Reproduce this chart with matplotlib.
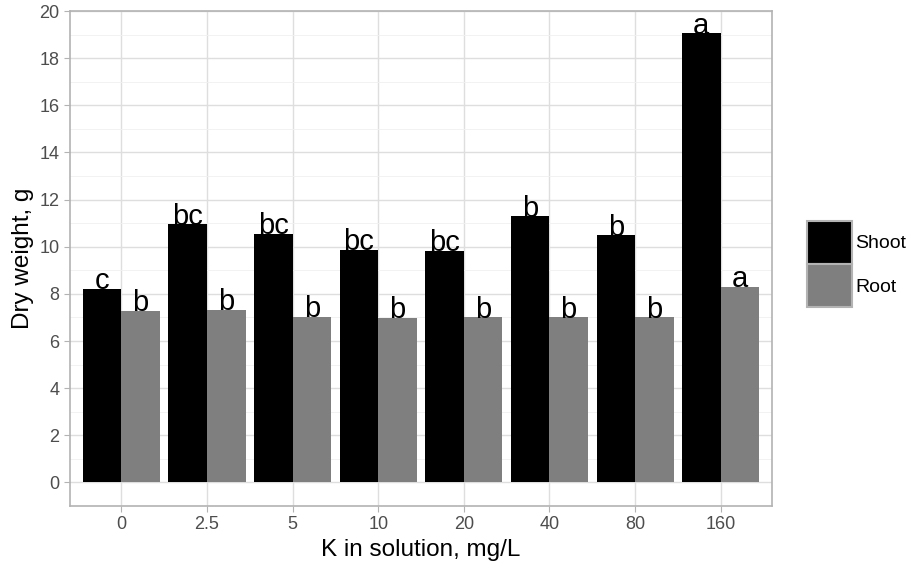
import matplotlib
matplotlib.use('Agg')
import matplotlib.pyplot as plt
import numpy as np
from matplotlib.patches import Patch

# data
conc = ['0', '2.5', '5', '10', '20', '40', '80', '160']
shoot = [8.22, 10.97, 10.55, 9.87, 9.83, 11.31, 10.5, 19.07]
root = [7.29, 7.33, 7.03, 6.99, 7.0, 7.0, 7.0, 8.3]
shoot_lab = ['c', 'bc', 'bc', 'bc', 'bc', 'b', 'b', 'a']
root_lab = ['b', 'b', 'b', 'b', 'b', 'b', 'b', 'a']

plt.rcParams['font.family'] = ['Liberation Sans', 'DejaVu Sans']

fig = plt.figure(figsize=(9.12, 5.69), dpi=100)
ax = fig.add_axes([70 / 912, 1 - 506 / 569, (772 - 70) / 912, (506 - 11) / 569])

x = np.arange(len(conc))
w = 0.45
ax.bar(x - w / 2, shoot, width=w, color='black', zorder=3)
ax.bar(x + w / 2, root, width=w, color='#7f7f7f', zorder=3)

f = 21  # letters above bars
for i in range(len(conc)):
    ax.text(x[i] - w / 2, shoot[i] - 0.03, shoot_lab[i], ha='center', va='baseline', fontsize=f, zorder=4)
    ax.text(x[i] + w / 2, root[i] - 0.03, root_lab[i], ha='center', va='baseline', fontsize=f, zorder=4)

ax.set_xlim(-0.6, 7.6)
ax.set_ylim(-1, 20)
ax.set_xticks(x)
ax.set_xticklabels(conc)
ax.set_yticks(np.arange(0, 21, 2))
ax.set_yticks(np.arange(1, 20, 2), minor=True)
ax.grid(True, which='major', color='#dedede', lw=1, zorder=0)
ax.grid(True, which='minor', axis='y', color='#f0f0f0', lw=0.6, zorder=0)
ax.tick_params(axis='both', which='major', colors='#b3b3b3', labelcolor='#4d4d4d', labelsize=13, length=4)
ax.tick_params(axis='y', which='minor', length=0)
for s in ax.spines.values():
    s.set_color('#b3b3b3')
    s.set_linewidth(1.2)

ax.set_xlabel('K in solution, mg/L', fontsize=17.5, labelpad=4)
ax.set_ylabel('Dry weight, g', fontsize=17.5, labelpad=4)

handles = [Patch(facecolor='black', edgecolor='#b3b3b3', lw=1.5, label='Shoot'),
           Patch(facecolor='#7f7f7f', edgecolor='#b3b3b3', lw=1.5, label='Root')]
fig.legend(handles=handles, loc='center left', bbox_to_anchor=(807 / 912, 1 - 264 / 569),
           frameon=False, fontsize=14, handlelength=2.3, handleheight=3.0,
           labelspacing=0.05, handletextpad=0.2, borderpad=0, borderaxespad=0)

fig.savefig('out.png', dpi=100)
